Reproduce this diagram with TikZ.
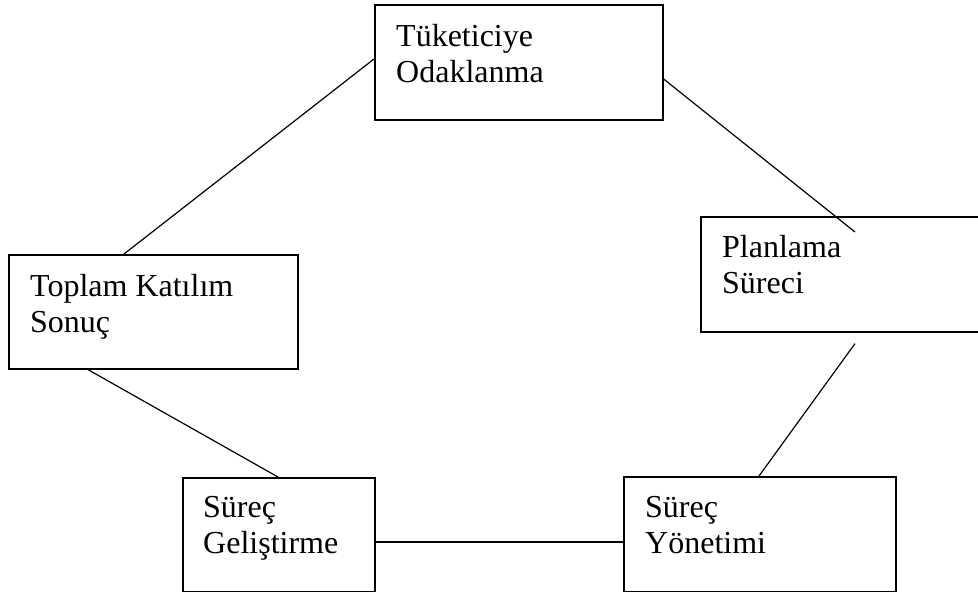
\documentclass[tikz,border=0pt]{standalone}
\usepackage{fontspec}
\setmainfont{Liberation Serif}
\begin{document}
\begin{tikzpicture}[x=1pt,y=-1pt,
  box/.style={draw, line width=1.6pt, rectangle, inner sep=0pt, anchor=north west},
  txt/.style={anchor=base west, inner sep=0pt, align=left, font=\fontsize{32}{36}\selectfont},
  link/.style={line width=1.2pt}]
  \useasboundingbox (0,0) rectangle (978,592);
  \clip (0,0) rectangle (978,592);

  % boxes
  \node[box, minimum width=288pt, minimum height=115pt] (tuk) at (374,4) {};
  \node[box, minimum width=284pt, minimum height=115pt] (plan) at (700,216) {};
  \node[box, minimum width=289pt, minimum height=114pt] (toplam) at (8,254) {};
  \node[box, minimum width=192pt, minimum height=114pt] (gel) at (182,477) {};
  \node[box, minimum width=272pt, minimum height=115pt] (yon) at (623,476) {};

  % labels
  \node[txt] (tuktxt) at ([xshift=22pt,yshift=-78pt]tuk.north west) {Tüketiciye\\Odaklanma};
  \node[txt] (plantxt) at ([xshift=22pt,yshift=-77pt]plan.north west) {Planlama\\Süreci};
  \node[txt] (toplamtxt) at ([xshift=22pt,yshift=-78pt]toplam.north west) {Toplam Katılım\\Sonuç};
  \node[txt] (geltxt) at ([xshift=21pt,yshift=-76pt]gel.north west) {Süreç\\Geliştirme};
  \node[txt] (yontxt) at ([xshift=22pt,yshift=-77pt]yon.north west) {Süreç\\Yönetimi};

  % loose ends near the planning box
  \coordinate (pin) at ([xshift=155pt,yshift=-16pt]plan.north west);
  \coordinate (pout) at ([xshift=155pt,yshift=-11pt]plan.south west);

  % connectors
  \draw[link] ([xshift=116pt]toplam.north west) -- ([yshift=-55pt]tuk.north west);
  \draw[link] ([yshift=-75pt]tuk.north east) -- (pin);
  \draw[link] (pout) -- ([xshift=136pt]yon.north west);
  \draw[link] ([xshift=80pt]toplam.south west) -- ([xshift=96pt]gel.north west);
  \draw[link] ([yshift=-65pt]gel.north east) -- ([yshift=-66pt]yon.north west);
\end{tikzpicture}
\end{document}
